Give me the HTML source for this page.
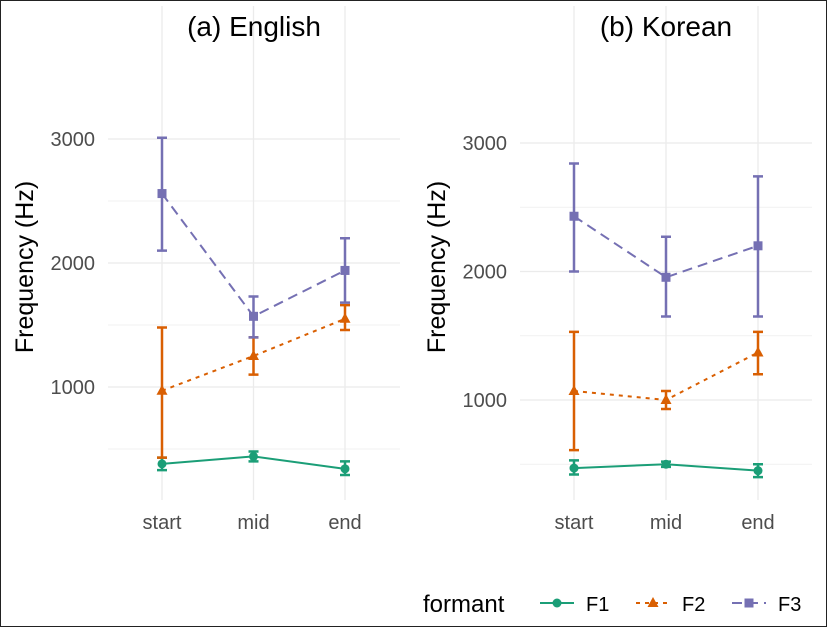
<!DOCTYPE html>
<html><head><meta charset="utf-8"><style>
body{margin:0;background:#fff}
svg{display:block;font-family:"Liberation Sans",sans-serif}
</style></head><body>
<svg id="chart" width="827" height="627">
<rect x="0.5" y="0.5" width="826" height="626" fill="#fff" stroke="#222"/>
<g id="root"></g>
</svg>
<script>
const categories = ["start","mid","end"];
const formants = ["F1","F2","F3"];
const enMean = [[380,440,340],[970,1250,1550],[2560,1570,1940]];
const enLow  = [[330,400,290],[430,1100,1460],[2100,1400,1680]];
const enHigh = [[430,480,400],[1480,1400,1660],[3010,1730,2200]];
const koMean = [[470,500,450],[1070,1000,1370],[2430,1955,2200]];
const koLow  = [[420,480,400],[610,930,1200],[2000,1650,1650]];
const koHigh = [[530,520,500],[1530,1070,1530],[2840,2270,2740]];
const yTicks = [1000,2000,3000];
const yMinor = [500,1500,2500];
const colors = ["#1b9e77","#d95f02","#7570b3"];
const dashes = ["", "4,5", "10,6"];
const NS="http://www.w3.org/2000/svg";
const root=document.getElementById('root');
function mk(tag,attrs,parent){const e=document.createElementNS(NS,tag);for(const k in attrs)e.setAttribute(k,attrs[k]);(parent||root).appendChild(e);return e;}
function marker(g,shape,x,y,c){
  let e;
  if(shape===0) e=mk('circle',{cx:x,cy:y,r:4.5,fill:c},g);
  else if(shape===1) e=mk('polygon',{points:`${x},${y-6} ${x-5.5},${y+4} ${x+5.5},${y+4}`,fill:c},g);
  else e=mk('rect',{x:x-4.5,y:y-4.5,width:9,height:9,fill:c},g);
  
  
}
function panel(cfg){
  const g=mk('g',{});
  
  
  const y=v=>cfg.y0-(v-1000)*cfg.k/1000;
  const x=i=>cfg.x0+i*cfg.dx;
  yMinor.forEach(v=>{const l=mk('line',{x1:cfg.left,x2:cfg.right,y1:y(v),y2:y(v),stroke:'#f1f1f1','stroke-width':1},g);});
  yTicks.forEach(v=>{const l=mk('line',{x1:cfg.left,x2:cfg.right,y1:y(v),y2:y(v),stroke:'#ebebeb','stroke-width':1.3},g);
    const t=mk('text',{x:cfg.left-13,y:y(v)+7,'text-anchor':'end','font-size':20,fill:'#4d4d4d'},g);t.textContent=v;});
  categories.forEach((c,i)=>{const l=mk('line',{x1:x(i),x2:x(i),y1:cfg.top,y2:cfg.bottom,stroke:'#ebebeb','stroke-width':1.3},g);
    const t=mk('text',{x:x(i),y:cfg.bottom+29,'text-anchor':'middle','font-size':20,fill:'#4d4d4d'},g);t.textContent=c;});
  const tt=mk('text',{x:(cfg.left+cfg.right)/2,y:36,'text-anchor':'middle','font-size':28,fill:'#000'},g);tt.textContent=cfg.title;
  const yt=mk('text',{x:0,y:0,'text-anchor':'middle','font-size':25,fill:'#000',transform:`translate(${cfg.left-75},${(cfg.top+cfg.bottom)/2+14}) rotate(-90)`},g);yt.textContent='Frequency (Hz)';
  formants.forEach((f,s)=>{
    const sg=mk('g',{},g);
    const pts=categories.map((c,i)=>x(i)+','+y(cfg.mean[s][i])).join(' ');
    const pl=mk('polyline',{points:pts,fill:'none',stroke:colors[s],'stroke-width':2,'stroke-dasharray':dashes[s]},sg);
    categories.forEach((c,i)=>{
      const eb=mk('path',{d:`M${x(i)-5},${y(cfg.low[s][i])}H${x(i)+5}M${x(i)-5},${y(cfg.high[s][i])}H${x(i)+5}M${x(i)},${y(cfg.low[s][i])}V${y(cfg.high[s][i])}`,stroke:colors[s],'stroke-width':2.5,fill:'none'},sg);
      
      marker(sg,s,x(i),y(cfg.mean[s][i]),colors[s]);
    });
  });
}
panel({name:'panel-english',title:'(a) English',mean:enMean,low:enLow,high:enHigh,y0:387,k:124,x0:162,dx:91.5,left:108,right:400,top:6,bottom:500});
panel({name:'panel-korean',title:'(b) Korean',mean:koMean,low:koLow,high:koHigh,y0:400,k:128.5,x0:574,dx:92,left:520,right:812,top:6,bottom:500});
const lg=mk('g',{});
const lt=mk('text',{x:423,y:612,'font-size':24,fill:'#000'},lg);lt.textContent='formant';
const lx=[540,636,732];
formants.forEach((f,s)=>{
  const eg=mk('g',{},lg);
  mk('line',{x1:lx[s],x2:lx[s]+34,y1:603,y2:603,stroke:colors[s],'stroke-width':2,'stroke-dasharray':dashes[s]},eg);
  marker(eg,s,lx[s]+17,603,colors[s]);
  const t=mk('text',{x:lx[s]+46,y:611,'font-size':20,fill:'#000'},eg);t.textContent=f;
});
</script>
</body></html>
